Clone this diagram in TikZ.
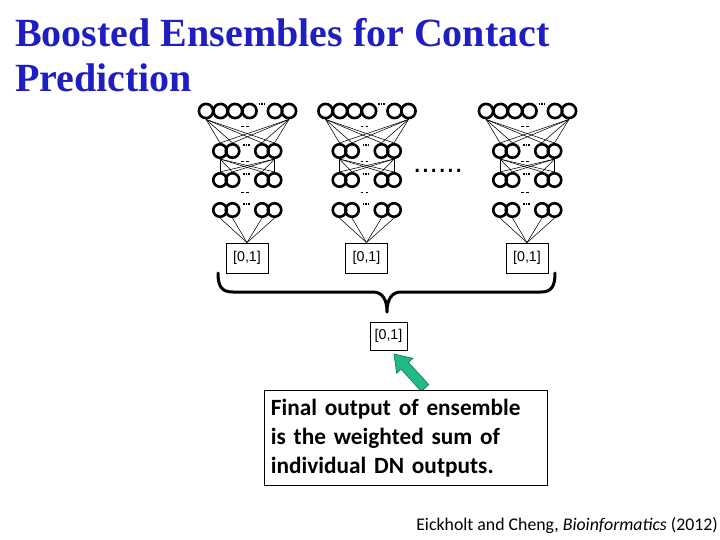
\documentclass[tikz,border=0pt]{standalone}
\usepackage{fontspec}
\newfontfamily\titlefont{Liberation Serif}
\newfontfamily\calfont{Carlito}
\newfontfamily\boxfont{Liberation Sans}
\newfontfamily\dotfont{Liberation Sans}
\definecolor{titleblue}{RGB}{30,30,195}
\definecolor{arrowfill}{RGB}{35,185,135}
\definecolor{arrowline}{RGB}{20,125,90}
\tikzset{
  neuron/.style={circle, draw, line width=2.6pt, minimum size=14.2pt, inner sep=0pt},
  neuronS/.style={neuron, minimum size=13.5pt},
  wire/.style={line width=0.55pt},
  outbox/.style={draw, line width=0.8pt, minimum width=42pt, minimum height=30pt, inner sep=0pt,
    font=\boxfont\fontsize{14.2}{16}\selectfont},
}
\newcommand\dotsmark[2]{%
  \foreach \dx in {-2.6,0,2.6} \fill (#1+\dx-0.7,#2-0.7) rectangle ++(1.4,1.4);}
\newcommand\dashmark[2]{%
  \foreach \dx in {-2.4,2.4} \draw[line width=0.9pt] (#1+\dx-1.2,#2) -- ++(2.4,0);}
\newcommand\dnnet[2]{% #1 = x shift, #2 = name prefix
  \begin{scope}[xshift=#1pt]
    \foreach \n/\x in {1/206,2/220.5,3/235,4/249.5,5/275,6/289}
      \node[neuron] (#2t\n) at (\x,111) {};
    \foreach \n/\x in {1/220,2/232.5,3/262,4/274.5} {
      \node[neuronS] (#2a\n) at (\x,151) {};
      \node[neuronS] (#2b\n) at (\x,180) {};
      \node[neuronS] (#2c\n) at (\x,210) {};
    }
    \node[outbox] (#2o) at (247,258) {[0,1]};
    \foreach \i in {1,...,4} {
      \draw[wire] (#2t1.south) -- (#2a\i.north);
      \draw[wire] (#2t6.south) -- (#2a\i.north);
      \draw[wire] (#2a1.south) -- (#2b\i.north);
      \draw[wire] (#2a4.south) -- (#2b\i.north);
      \draw[wire] (#2c\i.south) -- (#2o.north);
    }
    \dotsmark{262}{104}
    \dotsmark{246.5}{145}
    \dotsmark{246.5}{174}
    \dotsmark{246.5}{204}
    \dashmark{245}{126}
    \dashmark{245}{161}
    \dashmark{245}{192}
  \end{scope}}
\begin{document}
\begin{tikzpicture}[x=1pt,y=-1pt]
  \fill[white] (0,0) rectangle (720,540);
  \useasboundingbox (0,0) rectangle (720,540);
  % title
  \node[anchor=base west, inner sep=0pt, text=titleblue,
        font=\titlefont\bfseries\fontsize{40}{44}\selectfont] (title1) at (15,47) {Boosted Ensembles for Contact};
  \node[anchor=base west, inner sep=0pt, text=titleblue,
        font=\titlefont\bfseries\fontsize{40}{44}\selectfont] (title2) at (15,92) {Prediction};
  % networks
  \dnnet{0}{N1}
  \dnnet{119.5}{N2}
  \dnnet{280}{N3}
  \node[anchor=base, inner sep=0pt, font=\dotfont\fontsize{30}{30}\selectfont] (more) at (438,173) {......};
  % brace
  \draw[line width=3pt, line cap=round, line join=round]
    (218,273) .. controls (218,287) and (222,292) .. (233,292) -- (373,292)
    .. controls (382,292) and (387,299) .. (387,312)
    .. controls (387,299) and (392,292) .. (401,292) -- (541,292)
    .. controls (551,292) and (555,287) .. (555,273);
  % final output
  \node[outbox, minimum width=37pt, minimum height=28pt] (fin) at (388.5,336) {[0,1]};
  % arrow
  \filldraw[fill=arrowfill, draw=arrowline, line width=0.7pt, line join=miter]
    (428.7,384.6) -- (408.5,362.4) -- (412.9,358.4) -- (394,354) -- (396.7,373.2)
    -- (401.1,369.2) -- (421.3,391.4) -- cycle;
  % message box
  \node[draw, fill=white, line width=0.8pt, anchor=north west, minimum width=283pt, minimum height=95pt,
        text width=270pt, inner xsep=6.5pt, inner ysep=0pt, align=left,
        font=\calfont\bfseries\fontsize{23.3}{29}\selectfont] (msg) at (264,390)
        {Final output of ensemble\\is the weighted sum of\\individual DN outputs.};
  % citation
  \node[anchor=base east, inner sep=0pt, font=\calfont\fontsize{17.8}{20}\selectfont] (cite) at (718,530)
        {Eickholt and Cheng, \textit{Bioinformatics} (2012)};
\end{tikzpicture}
\end{document}
